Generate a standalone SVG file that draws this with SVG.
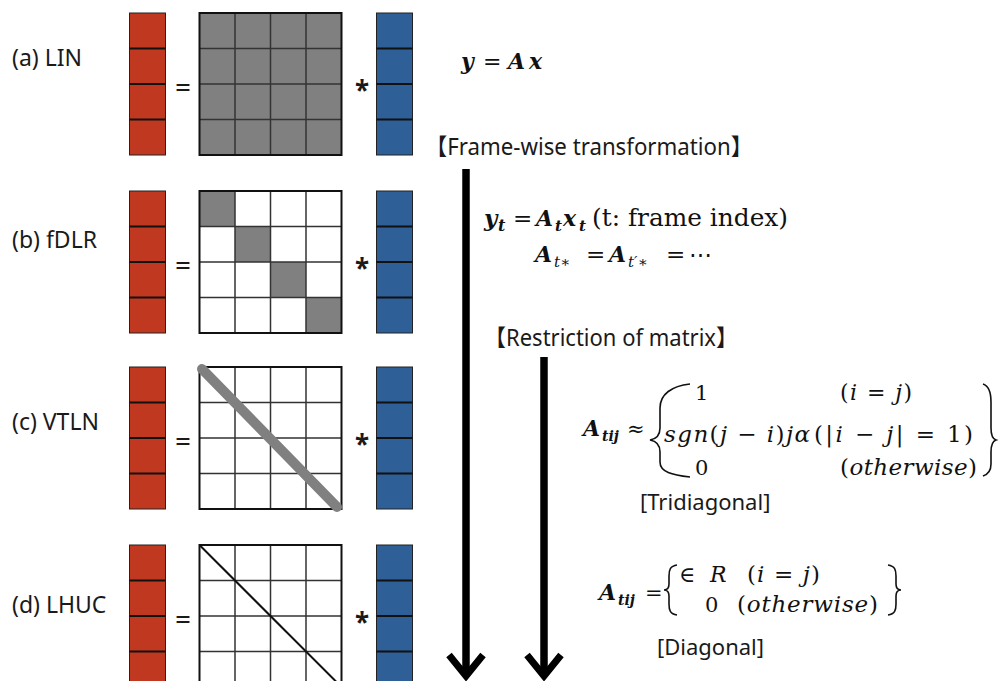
<svg xmlns="http://www.w3.org/2000/svg" width="999" height="681" viewBox="0 0 999 681">
<style>
.lbl{font-family:"Noto Sans","Open Sans","Liberation Sans",sans-serif;font-size:23px;fill:#1a1a1a}
.sm{font-size:22px}
.op{font-family:"Noto Sans","Liberation Sans",sans-serif;font-size:28px;fill:#1a1a1a}
.ast{font-family:"Noto Sans","Liberation Sans",sans-serif;font-size:26px;font-weight:bold;fill:#1a1a1a}
.ttl{font-family:"Noto Sans","Noto Sans CJK JP",sans-serif;font-size:23px;fill:#1a1a1a}
.m{font-family:"DejaVu Serif","Liberation Serif",serif;fill:#111}
.bi{font-weight:bold;font-style:italic}
.it{font-style:italic}
.sep{fill:none;stroke:#111;stroke-width:2}
.gl{fill:none;stroke:#333;stroke-width:1.5}
.gb{fill:none;stroke:#111;stroke-width:2}
.red{fill:#C0381F}
.blue{fill:#2E5F96}
.gr{fill:#808080}
.brace{fill:none;stroke:#111;stroke-width:1.6}
.arr{fill:none;stroke:#000;stroke-width:7.5}
.head{fill:none;stroke:#000;stroke-width:7;stroke-linejoin:miter}
</style>
<defs>
<g id="col"><rect width="36" height="142" stroke="#222" stroke-width="1"/><path class="sep" d="M0 35.5H36M0 71H36M0 106.5H36"/></g>
<g id="grid"><path class="gl" d="M35.5 0V142M71 0V142M106.5 0V142M0 35.5H142M0 71H142M0 106.5H142"/><rect class="gb" width="142" height="142"/></g>
</defs>
<rect width="999" height="681" fill="#fff"/>

<g id="row-a">
<text class="lbl" x="12" y="66">(a) LIN</text>
<use href="#col" x="129.5" y="13" class="red"/>
<text class="op" x="175" y="97">=</text>
<rect class="gr" x="199.5" y="13" width="142" height="142"/>
<use href="#grid" x="199.5" y="13"/>
<text class="ast" x="355" y="100">*</text>
<use href="#col" x="376.5" y="13" class="blue"/>
</g>

<g id="row-b">
<text class="lbl" x="12" y="248">(b) fDLR</text>
<use href="#col" x="129.5" y="191" class="red"/>
<text class="op" x="175" y="275">=</text>
<rect fill="#fff" x="199.5" y="191" width="142" height="142"/>
<rect class="gr" x="199.5" y="191" width="35.5" height="35.5"/>
<rect class="gr" x="235" y="226.5" width="35.5" height="35.5"/>
<rect class="gr" x="270.5" y="262" width="35.5" height="35.5"/>
<rect class="gr" x="306" y="297.5" width="35.5" height="35.5"/>
<use href="#grid" x="199.5" y="191"/>
<text class="ast" x="355" y="278">*</text>
<use href="#col" x="376.5" y="191" class="blue"/>
</g>

<g id="row-c">
<text class="lbl" x="12" y="430">(c) VTLN</text>
<use href="#col" x="129.5" y="367" class="red"/>
<text class="op" x="175" y="451">=</text>
<rect fill="#fff" x="199.5" y="367" width="142" height="142"/>
<use href="#grid" x="199.5" y="367"/>
<line x1="202" y1="369" x2="337" y2="507" stroke="#808080" stroke-width="10" stroke-linecap="round"/>
<text class="ast" x="355" y="454">*</text>
<use href="#col" x="376.5" y="367" class="blue"/>
</g>

<g id="row-d">
<text class="lbl" x="12" y="613">(d) LHUC</text>
<use href="#col" x="129.5" y="545" class="red"/>
<text class="op" x="175" y="629">=</text>
<rect fill="#fff" x="199.5" y="545" width="142" height="142"/>
<use href="#grid" x="199.5" y="545"/>
<line x1="199.5" y1="545" x2="341.5" y2="687" stroke="#111" stroke-width="2"/>
<text class="ast" x="355" y="632">*</text>
<use href="#col" x="376.5" y="545" class="blue"/>
</g>

<g id="formula-lin" class="m">
<text x="461" y="69" font-size="22" class="bi">y</text>
<text x="483" y="69" font-size="22">=</text>
<text x="508" y="69" font-size="22" class="bi">A</text>
<text x="529" y="69" font-size="22" class="bi">x</text>
</g>

<g id="title-frame">
<text class="ttl" x="425" y="155" textLength="328" lengthAdjust="spacingAndGlyphs">【Frame-wise transformation】</text>
</g>

<g id="formula-frame" class="m">
<text x="484" y="226" font-size="23" class="bi">y</text>
<text x="498" y="231" font-size="16" class="bi">t</text>
<text x="513" y="226" font-size="23">=</text>
<text x="536" y="226" font-size="22" class="bi">A</text>
<text x="555" y="231" font-size="15" class="bi">t</text>
<text x="563" y="226" font-size="22" class="bi">x</text>
<text x="579" y="231" font-size="15" class="bi">t</text>
<text x="592" y="226" font-size="25" textLength="196" lengthAdjust="spacingAndGlyphs">(t: frame index)</text>
<text x="535" y="262" font-size="22" class="bi">A</text>
<text x="554" y="267" font-size="15" class="it">t∗</text>
<text x="586" y="262" font-size="23">=</text>
<text x="609" y="262" font-size="22" class="bi">A</text>
<text x="628" y="267" font-size="15" class="it">t′∗</text>
<text x="666" y="262" font-size="23">=</text>
<text x="689" y="262" font-size="23">⋯</text>
</g>

<g id="title-restrict">
<text class="ttl" x="484" y="346" textLength="254" lengthAdjust="spacingAndGlyphs">【Restriction of matrix】</text>
</g>

<g id="formula-tri" class="m">
<text x="583" y="436" font-size="22" class="bi">A</text>
<text x="602" y="441" font-size="14" class="bi">tij</text>
<text x="627" y="436" font-size="21">≈</text>
<path class="brace" d="M690,384 C672,386 660,394 660,408 L660,428 C660,435 656,439 650,440 C656,441 660,445 660,452 L660,462 C660,472 672,475 690,477"/>
<text x="695" y="400" font-size="21">1</text>
<text x="840" y="400" font-size="22" textLength="72" lengthAdjust="spacing">(<tspan class="it">i</tspan> = <tspan class="it">j</tspan>)</text>
<text x="664" y="442" font-size="23" textLength="146" lengthAdjust="spacing"><tspan class="it">sgn</tspan>(<tspan class="it">j</tspan> − <tspan class="it">i</tspan>)<tspan class="it">jα</tspan></text>
<text x="814" y="442" font-size="23" textLength="159" lengthAdjust="spacing">(|<tspan class="it">i</tspan> − <tspan class="it">j</tspan>| = 1)</text>
<text x="695" y="475" font-size="21">0</text>
<text x="840" y="475" font-size="23" textLength="137" lengthAdjust="spacing">(<tspan class="it">otherwise</tspan>)</text>
<path class="brace" d="M983,384 C989,386 991,392 991,402 L991,428 C991,435 993,439 996,440 C993,441 991,446 991,452 L991,464 C991,470 989,474 983,476"/>
<text class="lbl sm" x="640" y="510">[Tridiagonal]</text>
</g>

<g id="formula-diag" class="m">
<text x="599" y="600" font-size="22" class="bi">A</text>
<text x="618" y="605" font-size="14" class="bi">tij</text>
<text x="645" y="600" font-size="21">=</text>
<path class="brace" d="M677,565 C670,566 669,570 669,576 L669,584 C669,588 667,590 664,590 C667,590 669,592 669,596 L669,604 C669,610 670,614 677,615"/>
<text x="679" y="582" font-size="22">∈</text>
<text x="710" y="582" font-size="22" class="it">R</text>
<text x="747" y="582" font-size="23" textLength="73" lengthAdjust="spacing">(<tspan class="it">i</tspan> = <tspan class="it">j</tspan>)</text>
<text x="705" y="612" font-size="21">0</text>
<text x="737" y="612" font-size="23" textLength="141" lengthAdjust="spacing">(<tspan class="it">otherwise</tspan>)</text>
<path class="brace" d="M888,565 C895,566 896,570 896,576 L896,584 C896,588 898,590 901,590 C898,590 896,592 896,596 L896,604 C896,610 895,614 888,615"/>
<text class="lbl sm" x="657" y="655">[Diagonal]</text>
</g>

<g id="connectors">
<line class="arr" x1="466" y1="169" x2="466" y2="675"/>
<polyline class="head" points="449,655 466,676 483,655"/>
<line class="arr" x1="544" y1="357" x2="544" y2="675"/>
<polyline class="head" points="527,655 544,676 561,655"/>
</g>
</svg>
